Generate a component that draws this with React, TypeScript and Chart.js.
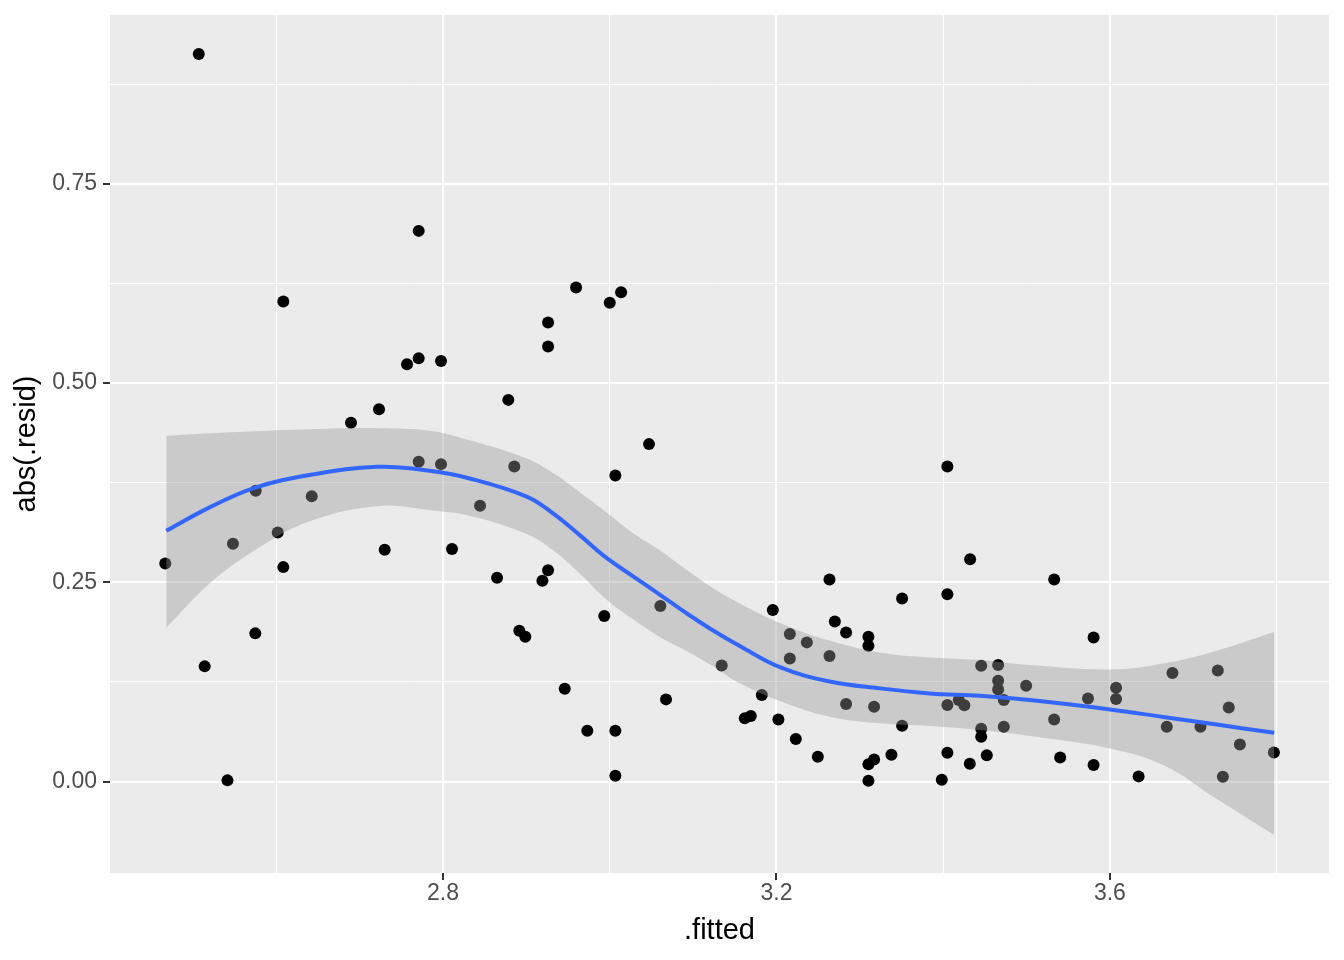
import React, { useEffect, useRef } from 'react';
import { Chart, registerables } from 'chart.js';

Chart.register(...registerables);

// ---- observed points: .fitted vs abs(.resid) ----
const fittedX = [
  2.4668, 2.507, 2.5141, 2.5414, 2.548, 2.5748, 2.5753, 2.6017, 2.6084, 2.6084,
  2.6425, 2.6896, 2.7232, 2.73, 2.7568, 2.7708, 2.7708, 2.7708, 2.7976, 2.7976,
  2.8108, 2.8444, 2.8648, 2.8783, 2.8855, 2.8915, 2.8987, 2.9192, 2.926, 2.926,
  2.926, 2.946, 2.9596, 2.9731, 2.9934, 3.0, 3.0067, 3.0067, 3.0067, 3.0136,
  3.0471, 3.0607, 3.0675, 3.1343, 3.162, 3.1692, 3.1824, 3.1956, 3.2023, 3.216,
  3.216, 3.2232, 3.2364, 3.2496, 3.2636, 3.2636, 3.27, 3.2835, 3.2835, 3.3103,
  3.3103, 3.3103, 3.3103, 3.3171, 3.3171, 3.3379, 3.3507, 3.3507, 3.3983, 3.405,
  3.405, 3.405, 3.405, 3.4187, 3.4254, 3.4319, 3.4323, 3.4456, 3.4456, 3.4456,
  3.4523, 3.4659, 3.4659, 3.4659, 3.4727, 3.4727, 3.4995, 3.5331, 3.5331, 3.5403,
  3.5737, 3.5804, 3.5804, 3.6074, 3.6074, 3.6344, 3.6682, 3.675, 3.7086, 3.7294,
  3.7355, 3.7426, 3.7559, 3.7967,
];
const absResid = [
  0.2736, 0.9127, 0.1445, 0.0015, 0.2982, 0.1859, 0.3647, 0.3125, 0.6022, 0.269,
  0.358, 0.45, 0.4671, 0.2907, 0.5236, 0.6908, 0.5311, 0.4011, 0.5277, 0.3982,
  0.2916, 0.3459, 0.2556, 0.4788, 0.3953, 0.1891, 0.1816, 0.2518, 0.5759, 0.5458,
  0.2652, 0.1164, 0.6198, 0.0637, 0.2076, 0.6005, 0.384, 0.0637, 0.0073, 0.6139,
  0.4233, 0.2201, 0.1031, 0.1457, 0.0793, 0.0821, 0.1085, 0.2151, 0.078, 0.185,
  0.1545, 0.0533, 0.1746, 0.0311, 0.2536, 0.1574, 0.2009, 0.1871, 0.0972, 0.1816,
  0.1703, 0.0216, 0.001, 0.0938, 0.0278, 0.0336, 0.2297, 0.07, 0.0023, 0.3953,
  0.2351, 0.0959, 0.0361, 0.1022, 0.0956, 0.0223, 0.279, 0.1452, 0.0662, 0.0562,
  0.0329, 0.1461, 0.1264, 0.1156, 0.1022, 0.0687, 0.1201, 0.2536, 0.078, 0.0303,
  0.1043, 0.1808, 0.0207, 0.1176, 0.1035, 0.0065, 0.0687, 0.1361, 0.0687, 0.1394,
  0.006, 0.093, 0.0466, 0.0366,
];

// ---- loess smooth and confidence band ----
const smoothX = [
  2.468, 2.52, 2.574, 2.64, 2.721, 2.784, 2.832, 2.901, 2.932, 2.964, 2.997, 3.028, 3.06,
  3.093, 3.124, 3.156, 3.204, 3.264, 3.324, 3.384, 3.444, 3.504, 3.6, 3.664, 3.724, 3.797,
];
const smoothY = [
  0.3145, 0.344, 0.3685, 0.3845, 0.3948, 0.3898, 0.3802, 0.3572, 0.3363, 0.3091, 0.2799, 0.2575, 0.2345,
  0.2105, 0.1895, 0.17, 0.1435, 0.1255, 0.1169, 0.1106, 0.1075, 0.1022, 0.0905, 0.081, 0.0721, 0.0612,
];
const bandUpper = [
  0.4337, 0.437, 0.4395, 0.442, 0.4433, 0.44, 0.428, 0.405, 0.387, 0.363, 0.337, 0.3116, 0.2903,
  0.265, 0.2425, 0.2235, 0.199, 0.1766, 0.162, 0.1557, 0.1525, 0.1461, 0.1407, 0.1482, 0.1628, 0.1875,
];
const bandLower = [
  0.1929, 0.2486, 0.29, 0.3265, 0.3455, 0.3405, 0.3335, 0.3103, 0.2902, 0.2611, 0.2273, 0.2035, 0.1814,
  0.1633, 0.1447, 0.1232, 0.1011, 0.0813, 0.073, 0.0696, 0.0646, 0.0572, 0.0416, 0.0207, -0.0191, -0.0671,
];

// ---- axes ----
const xGridTicks = [2.6, 2.8, 3.0, 3.2, 3.4, 3.6, 3.8];
const xMajorTicks = [2.8, 3.2, 3.6];
const xTickLabels = ['2.8', '3.2', '3.6'];
const yGridTicks = [0, 0.125, 0.25, 0.375, 0.5, 0.625, 0.75, 0.875];
const yMajorTicks = [0, 0.25, 0.5, 0.75];
const yTickLabels = ['0.00', '0.25', '0.50', '0.75'];
const xRange = [2.4005, 3.8628];
const yRange = [-0.1147, 0.9616];

const majorIndex = (arr: number[], v: number) => arr.findIndex((m) => Math.abs(m - v) < 1e-6);

const FONT = "'Liberation Sans', Arial, Helvetica, sans-serif";

const panelBg = {
  id: 'panelBg',
  beforeDraw(chart: any) {
    const { ctx, chartArea } = chart;
    if (!chartArea) return;
    ctx.save();
    ctx.fillStyle = '#EBEBEB';
    ctx.fillRect(chartArea.left, chartArea.top, chartArea.right - chartArea.left, chartArea.bottom - chartArea.top);
    ctx.restore();
  },
};

export default function App() {
  const ref = useRef<HTMLCanvasElement | null>(null);

  useEffect(() => {
    if (!ref.current) return;
    const pts = fittedX.map((x, i) => ({ x, y: absResid[i] }));
    const line = smoothX.map((x, i) => ({ x, y: smoothY[i] }));
    const up = smoothX.map((x, i) => ({ x, y: bandUpper[i] }));
    const lo = smoothX.map((x, i) => ({ x, y: bandLower[i] }));

    const chart = new Chart(ref.current, {
      type: 'line',
      data: {
        datasets: [
          {
            label: 'smooth',
            data: line,
            borderColor: '#3366FF',
            borderWidth: 4,
            pointRadius: 0,
            fill: false,
            tension: 0.4,
          },
          {
            label: 'upper',
            data: up,
            borderColor: 'rgba(0,0,0,0)',
            borderWidth: 1,
            pointRadius: 0,
            fill: '+1',
            backgroundColor: 'rgba(153,153,153,0.4)',
            tension: 0.4,
          },
          {
            label: 'lower',
            data: lo,
            borderColor: 'rgba(0,0,0,0)',
            borderWidth: 1,
            pointRadius: 0,
            fill: false,
            tension: 0.4,
          },
          {
            label: 'points',
            data: pts,
            showLine: false,
            pointRadius: 6,
            pointHoverRadius: 6,
            pointBackgroundColor: '#000000',
            pointBorderWidth: 0,
            borderColor: 'rgba(0,0,0,0)',
          },
        ],
      } as any,
      plugins: [panelBg],
      options: {
        animation: false,
        responsive: false,
        events: [],
        layout: { padding: { top: 15, right: 15, left: 0, bottom: 0 } },
        plugins: { legend: { display: false }, tooltip: { enabled: false } },
        scales: {
          x: {
            type: 'linear',
            min: xRange[0],
            max: xRange[1],
            afterBuildTicks: (scale: any) => {
              scale.ticks = xGridTicks.map((v) => ({ value: v }));
            },
            afterFit: (scale: any) => {
              scale.height = 87;
              scale.paddingLeft = 0;
              scale.paddingRight = 0;
            },
            border: { display: false },
            grid: {
              color: '#FFFFFF',
              lineWidth: (ctx: any) => (ctx.tick && majorIndex(xMajorTicks, ctx.tick.value) >= 0 ? 2 : 1),
              tickColor: (ctx: any) =>
                ctx.tick && majorIndex(xMajorTicks, ctx.tick.value) >= 0 ? '#333333' : 'rgba(0,0,0,0)',
              tickWidth: 2,
              tickLength: 7,
              drawTicks: true,
            },
            ticks: {
              autoSkip: false,
              maxRotation: 0,
              minRotation: 0,
              padding: 2,
              color: '#4D4D4D',
              font: { family: FONT, size: 23, lineHeight: 1 },
              callback: (v: any) => {
                const i = majorIndex(xMajorTicks, Number(v));
                return i >= 0 ? xTickLabels[i] : '';
              },
            },
            title: {
              display: true,
              text: '.fitted',
              color: '#000000',
              font: { family: FONT, size: 29 },
              padding: { top: 0, bottom: 12 },
            },
          },
          y: {
            type: 'linear',
            min: yRange[0],
            max: yRange[1],
            afterBuildTicks: (scale: any) => {
              scale.ticks = yGridTicks.map((v) => ({ value: v }));
            },
            afterFit: (scale: any) => {
              scale.width = 110;
              scale.paddingTop = 0;
              scale.paddingBottom = 0;
            },
            border: { display: false },
            grid: {
              color: '#FFFFFF',
              lineWidth: (ctx: any) => (ctx.tick && majorIndex(yMajorTicks, ctx.tick.value) >= 0 ? 2 : 1),
              tickColor: (ctx: any) =>
                ctx.tick && majorIndex(yMajorTicks, ctx.tick.value) >= 0 ? '#333333' : 'rgba(0,0,0,0)',
              tickWidth: 2,
              tickLength: 7,
              drawTicks: true,
            },
            ticks: {
              autoSkip: false,
              padding: 6,
              color: '#4D4D4D',
              font: { family: FONT, size: 23 },
              callback: (v: any) => {
                const i = majorIndex(yMajorTicks, Number(v));
                return i >= 0 ? yTickLabels[i] : '';
              },
            },
            title: {
              display: true,
              text: 'abs(.resid)',
              color: '#000000',
              font: { family: FONT, size: 29 },
              padding: { top: 10, bottom: 0 },
            },
          },
        },
      } as any,
    });
    return () => chart.destroy();
  }, []);

  return (
    <div style={{ position: 'absolute', left: 0, top: 0, width: 1344, height: 960, background: '#FFFFFF' }}>
      <canvas ref={ref} width={1344} height={960} style={{ display: 'block', width: 1344, height: 960 }} />
    </div>
  );
}
